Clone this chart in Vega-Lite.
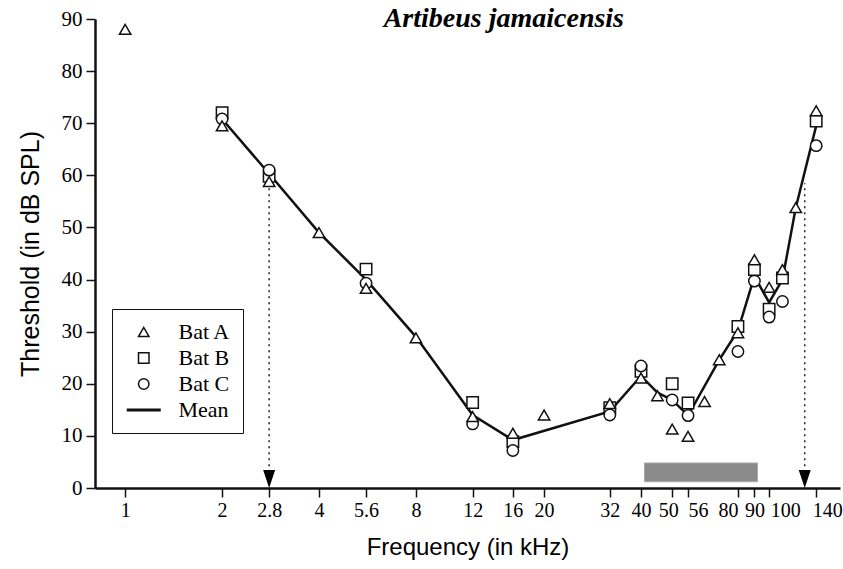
{
  "$schema": "https://vega.github.io/schema/vega-lite/v6.json",
  "width": 745,
  "height": 469,
  "autosize": "none",
  "padding": {"left": 95, "top": 19, "right": 3, "bottom": 81},
  "background": "white",
  "config": {
    "view": {"stroke": null},
    "legend": {
      "orient": "none",
      "legendX": 17,
      "legendY": 290,
      "strokeColor": "#111",
      "padding": 12,
      "rowPadding": 4,
      "labelFont": "Liberation Serif",
      "labelFontSize": 22,
      "labelColor": "black",
      "symbolOffset": 8.75,
      "labelOffset": 23.75,
      "symbolStrokeWidth": 1.5,
      "symbolSize": 110
    }
  },
  "datasets": {
    "label": [{"f": 15, "db": 88.5, "txt": "Artibeus jamaicensis"}],
    "bar": [{"f": 41, "f2": 92, "db": 1.2, "db2": 4.8}],
    "vlines": [{"f": 2.8, "db": 3, "db2": 60}, {"f": 129, "db": 3, "db2": 58.5}],
    "arrows": [{"f": 2.8, "db": 0}, {"f": 129, "db": 0}],
    "mean": [
      {"f": 2, "db": 70.8}, {"f": 2.8, "db": 60.3}, {"f": 4, "db": 49}, {"f": 5.6, "db": 40},
      {"f": 8, "db": 29}, {"f": 12, "db": 14}, {"f": 16, "db": 9.2}, {"f": 32, "db": 14.7},
      {"f": 40, "db": 21.5}, {"f": 45, "db": 18.3}, {"f": 50, "db": 16.9}, {"f": 56, "db": 13.9},
      {"f": 70, "db": 24.6}, {"f": 80, "db": 30.2}, {"f": 90, "db": 40.6}, {"f": 100, "db": 35.6},
      {"f": 110, "db": 40}, {"f": 121, "db": 53.8}, {"f": 140, "db": 69.5}
    ],
    "pts": [
      {"f": 2, "db": 72, "bat": "Bat B"}, {"f": 2.8, "db": 59.8, "bat": "Bat B"},
      {"f": 5.6, "db": 42, "bat": "Bat B"}, {"f": 12, "db": 16.4, "bat": "Bat B"},
      {"f": 16, "db": 8.9, "bat": "Bat B"}, {"f": 32, "db": 15.4, "bat": "Bat B"},
      {"f": 40, "db": 22.4, "bat": "Bat B"}, {"f": 50, "db": 20, "bat": "Bat B"},
      {"f": 56, "db": 16.3, "bat": "Bat B"}, {"f": 80, "db": 31, "bat": "Bat B"},
      {"f": 90, "db": 41.9, "bat": "Bat B"}, {"f": 100, "db": 34.3, "bat": "Bat B"},
      {"f": 110, "db": 40.3, "bat": "Bat B"}, {"f": 140, "db": 70.4, "bat": "Bat B"},
      {"f": 2, "db": 70.8, "bat": "Bat C"}, {"f": 2.8, "db": 61, "bat": "Bat C"},
      {"f": 5.6, "db": 39.3, "bat": "Bat C"}, {"f": 12, "db": 12.3, "bat": "Bat C"},
      {"f": 16, "db": 7.2, "bat": "Bat C"}, {"f": 32, "db": 14, "bat": "Bat C"},
      {"f": 40, "db": 23.4, "bat": "Bat C"}, {"f": 50, "db": 16.9, "bat": "Bat C"},
      {"f": 56, "db": 13.9, "bat": "Bat C"}, {"f": 80, "db": 26.2, "bat": "Bat C"},
      {"f": 90, "db": 39.7, "bat": "Bat C"}, {"f": 100, "db": 32.8, "bat": "Bat C"},
      {"f": 110, "db": 35.8, "bat": "Bat C"}, {"f": 140, "db": 65.7, "bat": "Bat C"},
      {"f": 1, "db": 88, "bat": "Bat A"}, {"f": 2, "db": 69.5, "bat": "Bat A"},
      {"f": 2.8, "db": 58.8, "bat": "Bat A"}, {"f": 4, "db": 49, "bat": "Bat A"},
      {"f": 5.6, "db": 38.3, "bat": "Bat A"}, {"f": 8, "db": 28.8, "bat": "Bat A"},
      {"f": 12, "db": 13.7, "bat": "Bat A"}, {"f": 16, "db": 10.5, "bat": "Bat A"},
      {"f": 20, "db": 14, "bat": "Bat A"}, {"f": 32, "db": 16.2, "bat": "Bat A"},
      {"f": 40, "db": 21.1, "bat": "Bat A"}, {"f": 45, "db": 17.7, "bat": "Bat A"},
      {"f": 50, "db": 11.3, "bat": "Bat A"}, {"f": 56, "db": 9.9, "bat": "Bat A"},
      {"f": 63, "db": 16.6, "bat": "Bat A"}, {"f": 70, "db": 24.6, "bat": "Bat A"},
      {"f": 80, "db": 29.8, "bat": "Bat A"}, {"f": 90, "db": 43.8, "bat": "Bat A"},
      {"f": 100, "db": 38.5, "bat": "Bat A"}, {"f": 110, "db": 41.9, "bat": "Bat A"},
      {"f": 121, "db": 53.8, "bat": "Bat A"}, {"f": 140, "db": 72.4, "bat": "Bat A"}
    ]
  },
  "layer": [
    {
      "data": {"name": "bar"},
      "mark": {"type": "rect", "color": "#8a8a8a", "stroke": "#a8a8a8", "strokeWidth": 1},
      "encoding": {
        "x": {
          "field": "f", "type": "quantitative",
          "scale": {"type": "log", "domain": [0.806, 166], "nice": false},
          "title": "Frequency (in kHz)",
          "axis": {
            "values": [1, 2, 2.8, 4, 5.6, 8, 12, 16, 20, 32, 40, 50, 56, 80, 90, 100, 140],
            "format": "~g",
            "grid": false,
            "labelFont": "Liberation Serif",
            "labelFontSize": 20,
            "labelColor": "black",
            "labelPadding": 3,
            "labelOverlap": false,
            "labelFlush": false,
            "labelOffset": {
              "condition": [
                {"test": "datum.value == 56", "value": 10},
                {"test": "datum.value == 80", "value": -10},
                {"test": "datum.value == 100", "value": 16},
                {"test": "datum.value == 140", "value": 11},
                {"test": "datum.value == 50", "value": -4}
              ],
              "value": 0
            },
            "tickSize": 9,
            "tickWidth": 1.5,
            "tickColor": "#111",
            "domainColor": "#111",
            "domainWidth": 2.5,
            "titleFont": "Liberation Sans",
            "titleFontSize": 24,
            "titleFontWeight": "normal",
            "titleColor": "black",
            "titlePadding": 15
          }
        },
        "x2": {"field": "f2"},
        "y": {
          "field": "db", "type": "quantitative",
          "scale": {"domain": [0, 90], "nice": false},
          "title": "Threshold (in dB SPL)",
          "axis": {
            "values": [0, 10, 20, 30, 40, 50, 60, 70, 80, 90],
            "grid": false,
            "labelFont": "Liberation Serif",
            "labelFontSize": 21,
            "labelColor": "black",
            "labelPadding": 4,
            "tickSize": 9,
            "tickWidth": 1.5,
            "tickColor": "#111",
            "domainColor": "#111",
            "domainWidth": 2.5,
            "titleFont": "Liberation Sans",
            "titleFontSize": 25,
            "titleFontWeight": "normal",
            "titleColor": "black",
            "titlePadding": 18
          }
        },
        "y2": {"field": "db2"}
      }
    },
    {
      "mark": {"type": "rule", "strokeDash": [2, 4], "strokeWidth": 1.5, "color": "#222"},
      "encoding": {"y": {"datum": 60}}
    },
    {
      "data": {"name": "vlines"},
      "mark": {"type": "rule", "strokeDash": [2, 4], "strokeWidth": 1.5, "color": "#222"},
      "encoding": {
        "x": {"field": "f", "type": "quantitative", "title": "Frequency (in kHz)"},
        "y": {"field": "db", "type": "quantitative", "title": "Threshold (in dB SPL)"},
        "y2": {"field": "db2"}
      }
    },
    {
      "data": {"name": "arrows"},
      "mark": {"type": "point", "shape": "M-1,-3L1,-3L0,0Z", "size": 144, "filled": true, "color": "black", "opacity": 1},
      "encoding": {
        "x": {"field": "f", "type": "quantitative", "title": "Frequency (in kHz)"},
        "y": {"field": "db", "type": "quantitative", "title": "Threshold (in dB SPL)"}
      }
    },
    {
      "data": {"name": "label"},
      "mark": {"type": "text", "font": "Liberation Serif", "fontSize": 28, "fontStyle": "italic", "fontWeight": "bold", "color": "black", "align": "center", "baseline": "alphabetic"},
      "encoding": {
        "x": {"field": "f", "type": "quantitative", "title": "Frequency (in kHz)"},
        "y": {"field": "db", "type": "quantitative", "title": "Threshold (in dB SPL)"},
        "text": {"field": "txt"}
      }
    },
    {
      "data": {"name": "mean"},
      "mark": {"type": "line", "color": "#111", "strokeWidth": 2.5},
      "encoding": {
        "x": {"field": "f", "type": "quantitative", "title": "Frequency (in kHz)"},
        "y": {"field": "db", "type": "quantitative", "title": "Threshold (in dB SPL)"}
      }
    },
    {
      "data": {"name": "pts"},
      "mark": {"type": "point", "filled": true, "strokeWidth": 1.5, "size": 130, "opacity": 1},
      "encoding": {
        "x": {"field": "f", "type": "quantitative", "title": "Frequency (in kHz)"},
        "y": {"field": "db", "type": "quantitative", "title": "Threshold (in dB SPL)"},
        "shape": {
          "field": "bat", "type": "nominal",
          "scale": {"domain": ["Bat A", "Bat B", "Bat C", "Mean"], "range": ["triangle-up", "square", "circle", "M-3.1,-0.15L3.1,-0.15L3.1,0.15L-3.1,0.15Z"]},
          "legend": {"title": null}
        },
        "fill": {
          "field": "bat", "type": "nominal",
          "scale": {"domain": ["Bat A", "Bat B", "Bat C", "Mean"], "range": ["white", "white", "white", "#111"]},
          "legend": {"title": null}
        },
        "stroke": {
          "field": "bat", "type": "nominal",
          "scale": {"domain": ["Bat A", "Bat B", "Bat C", "Mean"], "range": ["#111", "#111", "#111", "#111"]},
          "legend": {"title": null}
        }
      }
    }
  ]
}
